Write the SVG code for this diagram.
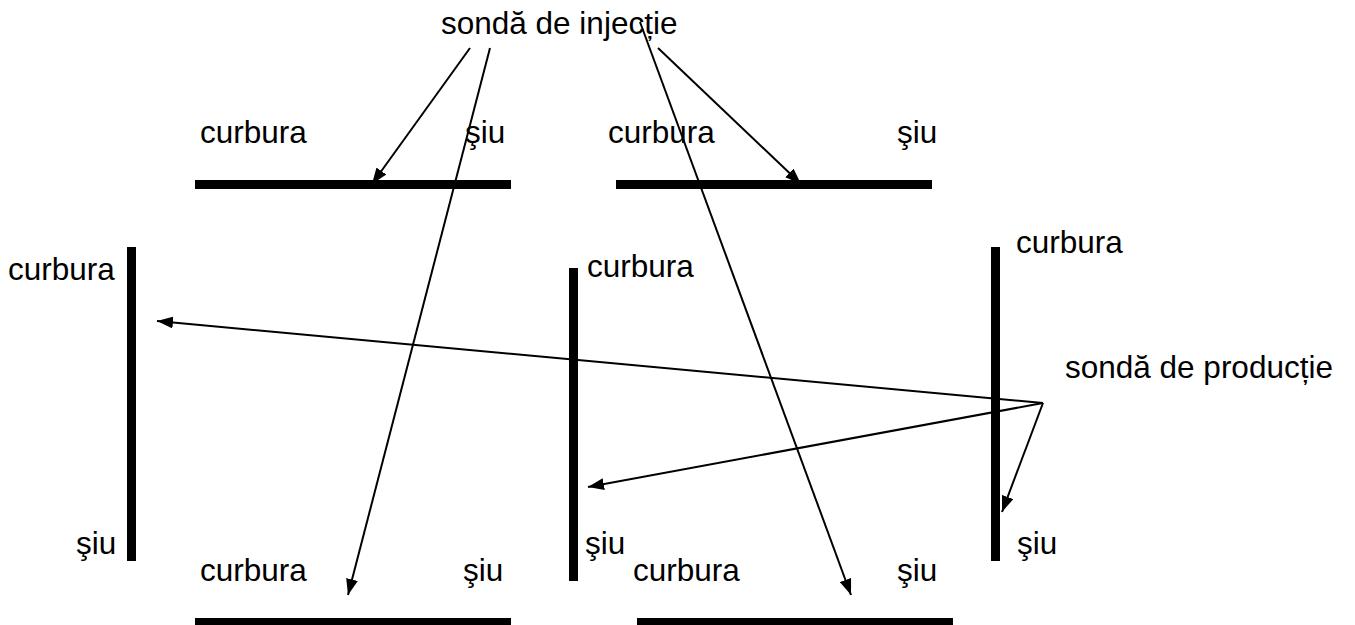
<svg xmlns="http://www.w3.org/2000/svg" width="1355" height="625" viewBox="0 0 1355 625">
<style>
text{font-family:"Liberation Sans",Arial,sans-serif;font-size:31.5px;fill:#000}
.bar{fill:#000}
.arr{stroke:#000;stroke-width:2;fill:none;marker-end:url(#ah)}
</style>
<defs>
<marker id="ah" markerUnits="userSpaceOnUse" viewBox="0 0 16 12" refX="16" refY="6" markerWidth="16" markerHeight="12" orient="auto">
<path d="M0,0 L16,6 L0,12 Z" fill="#000"/>
</marker>
</defs>
<rect width="1355" height="625" fill="#fff"/>
<g id="bar-top1"><rect class="bar" x="195" y="180" width="316" height="9"/><text x="200" y="143">curbura</text><text x="465" y="143">şiu</text></g>
<g id="bar-top2"><rect class="bar" x="616" y="180" width="316" height="9"/><text x="608" y="143">curbura</text><text x="897" y="143">şiu</text></g>
<g id="bar-left"><rect class="bar" x="127" y="247" width="9" height="314"/><text x="8" y="280">curbura</text><text x="76" y="554">şiu</text></g>
<g id="bar-mid"><rect class="bar" x="569" y="268" width="9" height="313"/><text x="587" y="277">curbura</text><text x="585" y="554">şiu</text></g>
<g id="bar-right"><rect class="bar" x="991" y="247" width="9" height="314"/><text x="1016" y="253">curbura</text><text x="1017" y="554">şiu</text></g>
<g id="bar-bot1"><rect class="bar" x="195" y="618" width="316" height="9"/><text x="200" y="581">curbura</text><text x="463" y="581">şiu</text></g>
<g id="bar-bot2"><rect class="bar" x="637" y="618" width="316" height="9"/><text x="633" y="581">curbura</text><text x="897" y="581">şiu</text></g>
<g id="label-injectie"><text x="441" y="34">sondă de injecție</text></g>
<g id="label-productie"><text x="1065" y="378">sondă de producție</text></g>
<g id="connectors">
<line class="arr" x1="470" y1="48" x2="372" y2="184"/>
<line class="arr" x1="490" y1="48" x2="348" y2="595"/>
<line class="arr" x1="640" y1="22" x2="851" y2="595"/>
<line class="arr" x1="658" y1="48" x2="801" y2="184"/>
<line class="arr" x1="1043" y1="403" x2="157" y2="321"/>
<line class="arr" x1="1043" y1="403" x2="588" y2="487"/>
<line class="arr" x1="1043" y1="403" x2="1002" y2="512"/>
</g>
</svg>
